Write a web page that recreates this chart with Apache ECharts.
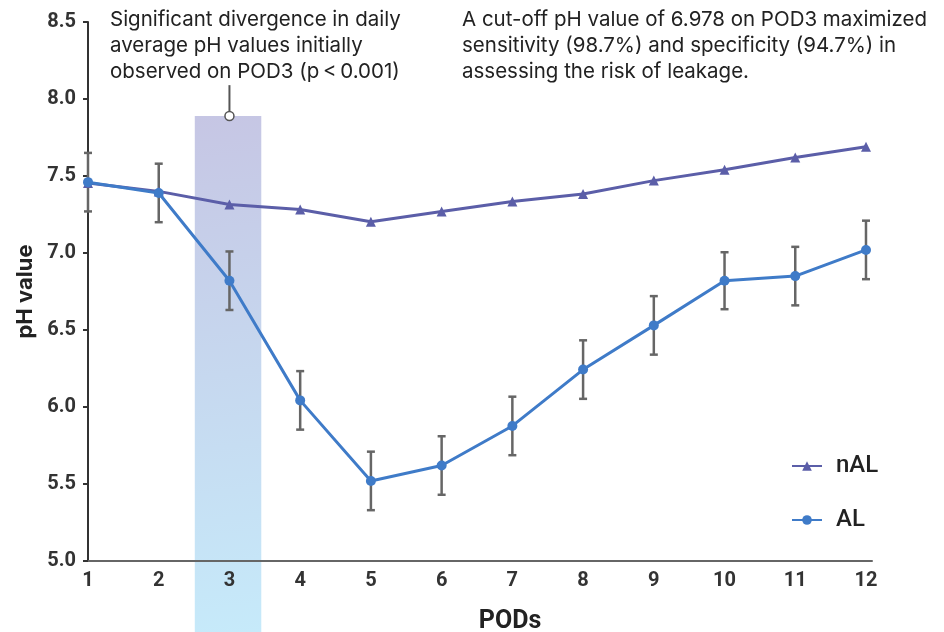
<!DOCTYPE html>
<html>
<head>
<meta charset="utf-8">
<script src="https://cdn.jsdelivr.net/npm/echarts@6/dist/echarts.min.js"></script>
<style>
html,body{margin:0;padding:0;background:#fff;}
#chart{width:944px;height:632px;}
</style>
</head>
<body>
<div id="chart"></div>
<script>
// ---- data ----
const pods = [1, 2, 3, 4, 5, 6, 7, 8, 9, 10, 11, 12];
const nalValues = [7.455, 7.40, 7.315, 7.282, 7.203, 7.27, 7.335, 7.383, 7.47, 7.54, 7.62, 7.69];
const alValues = [7.46, 7.39, 6.82, 6.043, 5.52, 5.62, 5.877, 6.243, 6.53, 6.82, 6.85, 7.02];
const alErrors = [0.19, 0.19, 0.19, 0.19, 0.19, 0.19, 0.19, 0.19, 0.19, 0.185, 0.19, 0.19];
const yTickLabels = ['5.0', '5.5', '6.0', '6.5', '7.0', '7.5', '8.0', '8.5'];
const seriesNames = ['nAL', 'AL'];
const highlightPod = 3;
const bandRange = [2.51, 3.45];
const bandTop = 7.89;
const calloutTop = 8.09;
const note1 = 'Significant divergence in daily\naverage pH values initially\nobserved on POD3 (p\u2009<\u20090.001)';
const note2 = 'A cut-off pH value of 6.978 on POD3 maximized\nsensitivity (98.7%) and specificity (94.7%) in\nassessing the risk of leakage.';

const NAL_COLOR = '#5b5ea8';
const AL_COLOR = '#3f7bc8';
const tickFont = '"Liberation Sans Narrow", "Roboto", sans-serif';

const chart = echarts.init(document.getElementById('chart'), null, {renderer: 'canvas'});

const nalData = pods.map((p, i) => [p, nalValues[i]]);
const alData = pods.map((p, i) => [p, alValues[i]]);
const errData = pods.map((p, i) => [p, alValues[i], alErrors[i]]);

const option = {
  animation: false,
  backgroundColor: '#fff',
  grid: {left: 88, right: 72, top: 22, bottom: 71, containLabel: false, outerBoundsMode: 'none'},
  legend: {
    data: seriesNames,
    orient: 'vertical',
    left: 786,
    top: 449,
    itemWidth: 30,
    itemHeight: 12,
    itemGap: 30,
    textStyle: {fontSize: 24, color: '#222', fontFamily: 'Roboto', fontWeight: 500, padding: [0, 0, 0, 9]}
  },
  xAxis: {
    type: 'value',
    min: 1,
    max: 12.085,
    interval: 1,
    name: 'PODs',
    nameLocation: 'middle',
    nameGap: 48,
    nameTextStyle: {fontSize: 25, color: '#222', fontFamily: tickFont, fontWeight: 'bold', padding: [0, 0, 0, 60]},
    axisLine: {show: true, lineStyle: {color: '#666', width: 2}},
    axisTick: {show: false},
    splitLine: {show: false},
    axisLabel: {
      margin: 10,
      fontSize: 20,
      color: '#333',
      fontFamily: tickFont,
      fontWeight: 'bold',
      formatter: v => (Math.abs(v - Math.round(v)) < 1e-6 && pods.indexOf(Math.round(v)) >= 0) ? String(Math.round(v)) : ''
    }
  },
  yAxis: {
    type: 'value',
    min: 5,
    max: 8.5,
    interval: 0.5,
    name: 'pH value',
    nameLocation: 'middle',
    nameGap: 49,
    nameTextStyle: {fontSize: 22, color: '#222', fontFamily: 'Inter', fontWeight: 700},
    axisLine: {show: true, lineStyle: {color: '#333', width: 2}},
    axisTick: {show: true, length: 5, lineStyle: {color: '#333', width: 2}},
    splitLine: {show: false},
    axisLabel: {
      margin: 12,
      fontSize: 20,
      color: '#333',
      fontFamily: tickFont,
      fontWeight: 'bold',
      formatter: v => yTickLabels[Math.round((v - 5) / 0.5)] || ''
    }
  },
  series: [
    {
      name: 'nAL',
      type: 'line',
      data: nalData,
      symbol: 'triangle',
      symbolSize: 10,
      z: 3,
      lineStyle: {color: NAL_COLOR, width: 3},
      itemStyle: {color: NAL_COLOR}
    },
    {
      name: 'AL',
      type: 'line',
      data: alData,
      symbol: 'circle',
      symbolSize: 10,
      z: 4,
      lineStyle: {color: AL_COLOR, width: 3},
      itemStyle: {color: AL_COLOR}
    },
    {
      name: 'AL-err',
      type: 'custom',
      data: errData,
      z: 2,
      encode: {x: 0, y: 1},
      renderItem: function (params, api) {
        const x = api.value(0), v = api.value(1), e = api.value(2);
        const top = api.coord([x, v + e]);
        const bot = api.coord([x, v - e]);
        const cap = 4;
        const st = {stroke: '#666', lineWidth: 2.5};
        return {
          type: 'group',
          children: [
            {type: 'line', shape: {x1: top[0], y1: top[1], x2: bot[0], y2: bot[1]}, style: st},
            {type: 'line', shape: {x1: top[0] - cap, y1: top[1], x2: top[0] + cap, y2: top[1]}, style: st},
            {type: 'line', shape: {x1: bot[0] - cap, y1: bot[1], x2: bot[0] + cap, y2: bot[1]}, style: st}
          ]
        };
      }
    }
  ]
};

chart.setOption(option);

// band, callout and notes, positioned through the chart's own scales
const pL = chart.convertToPixel({gridIndex: 0}, [bandRange[0], bandTop]);
const pR = chart.convertToPixel({gridIndex: 0}, [bandRange[1], bandTop]);
const pC = chart.convertToPixel({gridIndex: 0}, [highlightPod, bandTop]);
const pCT = chart.convertToPixel({gridIndex: 0}, [highlightPod, calloutTop]);
const H = chart.getHeight();

chart.setOption({
  graphic: [
    {
      type: 'rect',
      z: -10,
      silent: true,
      shape: {x: pL[0], y: pL[1], width: pR[0] - pL[0], height: H - pL[1]},
      style: {
        fill: new echarts.graphic.LinearGradient(0, 0, 1, 1, [
          {offset: 0, color: '#c6c6e4'},
          {offset: 1, color: '#c6eafa'}
        ])
      }
    },
    {
      type: 'line',
      z: 10,
      silent: true,
      shape: {x1: pCT[0], y1: pCT[1], x2: pC[0], y2: pC[1]},
      style: {stroke: '#555', lineWidth: 2}
    },
    {
      type: 'circle',
      z: 11,
      silent: true,
      shape: {cx: pC[0], cy: pC[1], r: 4.5},
      style: {fill: '#fff', stroke: '#555', lineWidth: 1.5}
    },
    {
      type: 'text',
      z: 10,
      left: 110,
      top: 7,
      style: {text: note1, fontSize: 20.5, lineHeight: 26, fill: '#222', fontFamily: 'Inter'}
    },
    {
      type: 'text',
      z: 10,
      left: 462,
      top: 7,
      style: {text: note2, fontSize: 20.5, lineHeight: 26, fill: '#222', fontFamily: 'Inter'}
    }
  ]
});
</script>
</body>
</html>
